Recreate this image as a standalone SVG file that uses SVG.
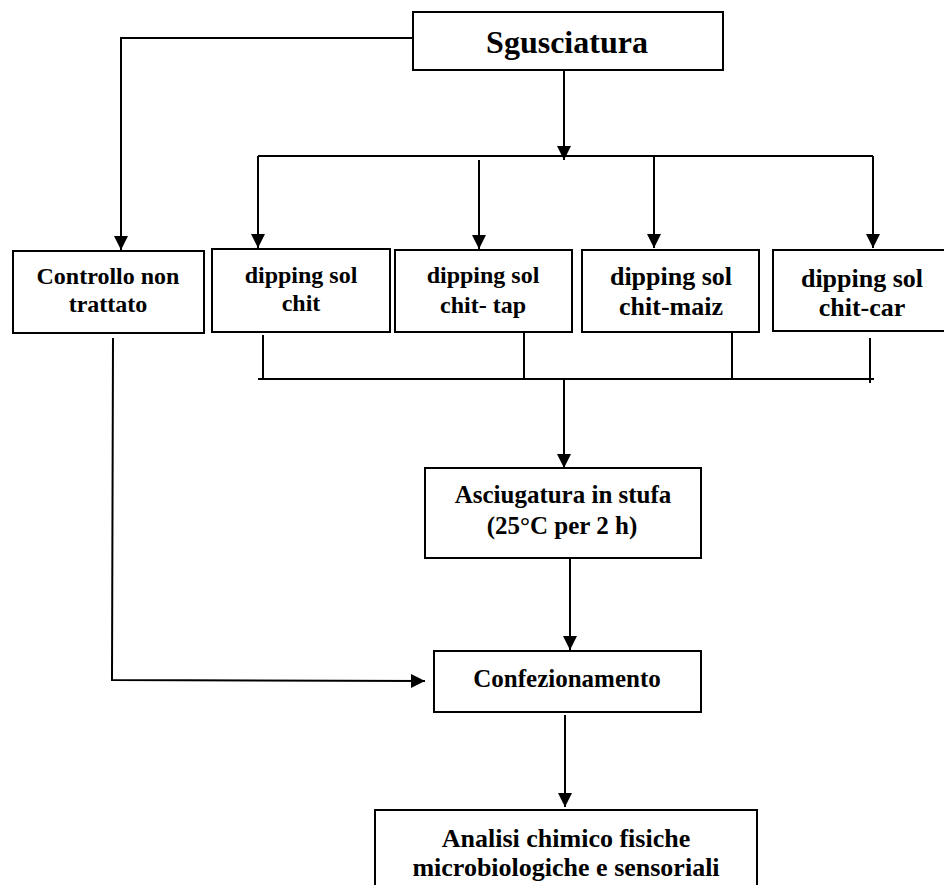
<svg xmlns="http://www.w3.org/2000/svg" width="944" height="885" viewBox="0 0 944 885">
<style>
.box{fill:#fff;stroke:#000;stroke-width:2}
.ln{fill:none;stroke:#000;stroke-width:2}
.arr{fill:none;stroke:#000;stroke-width:2;marker-end:url(#ah)}
text{font-family:"Liberation Serif","Times New Roman",serif;font-weight:bold;fill:#000;text-anchor:middle}
.t24{font-size:24px}
.t26{font-size:26px}
.t25{font-size:25px}
</style>
<defs>
<marker id="ah" markerUnits="userSpaceOnUse" markerWidth="14" markerHeight="14" refX="14" refY="7" orient="auto" viewBox="0 0 14 14">
<path d="M0,0 L14,7 L0,14 z" fill="#000"/>
</marker>
</defs>
<rect width="944" height="885" fill="#fff"/>
<g id="connectors">
<path class="arr" d="M413,38 H121 V250"/>
<path class="arr" d="M564,70 V160"/>
<path class="ln" d="M258,156 H873"/>
<path class="arr" d="M258,156 V248"/>
<path class="arr" d="M479,160 V249"/>
<path class="arr" d="M654,156 V248"/>
<path class="arr" d="M873,156 V248"/>
<path class="ln" d="M263,335 V379"/>
<path class="ln" d="M524,332 V379"/>
<path class="ln" d="M732,332 V379"/>
<path class="ln" d="M870,338 V383"/>
<path class="ln" d="M258,379 H874"/>
<path class="arr" d="M564,379 V468"/>
<path class="arr" d="M570,558 V650"/>
<path class="arr" d="M113,338 L112,680 L425,681"/>
<path class="arr" d="M565,715 V807"/>
</g>
<g id="sgusciatura">
<rect class="box" x="413" y="12" width="310" height="58"/>
<text x="567" y="53" style="font-size:32px">Sgusciatura</text>
</g>
<g id="controllo">
<rect class="box" x="13" y="251" width="191" height="82"/>
<text class="t24" x="108" y="284">Controllo non</text>
<text class="t24" x="108" y="312">trattato</text>
</g>
<g id="chit">
<rect class="box" x="212" y="249" width="178" height="83"/>
<text class="t24" x="301" y="283">dipping sol</text>
<text class="t24" x="301" y="311">chit</text>
</g>
<g id="chit-tap">
<rect class="box" x="395" y="250" width="177" height="82"/>
<text class="t24" x="483" y="283">dipping sol</text>
<text class="t24" x="483" y="313">chit- tap</text>
</g>
<g id="chit-maiz">
<rect class="box" x="582" y="250" width="177" height="82"/>
<text class="t26" x="671" y="285">dipping sol</text>
<text class="t26" x="671" y="315">chit-maiz</text>
</g>
<g id="chit-car">
<rect class="box" x="773" y="250" width="175" height="81"/>
<text class="t26" x="862" y="287">dipping sol</text>
<text class="t26" x="862" y="316">chit-car</text>
</g>
<g id="asciugatura">
<rect class="box" x="425" y="468" width="276" height="90"/>
<text class="t25" x="563" y="503">Asciugatura in stufa</text>
<text class="t25" x="562" y="534">(25°C per 2 h)</text>
</g>
<g id="confezionamento">
<rect class="box" x="434" y="651" width="267" height="61"/>
<text class="t25" x="567" y="687">Confezionamento</text>
</g>
<g id="analisi">
<path class="ln" d="M375,890 V810 H757 V890"/>
<text class="t26" x="566" y="847">Analisi chimico fisiche</text>
<text class="t26" x="566" y="876">microbiologiche e sensoriali</text>
</g>
</svg>
